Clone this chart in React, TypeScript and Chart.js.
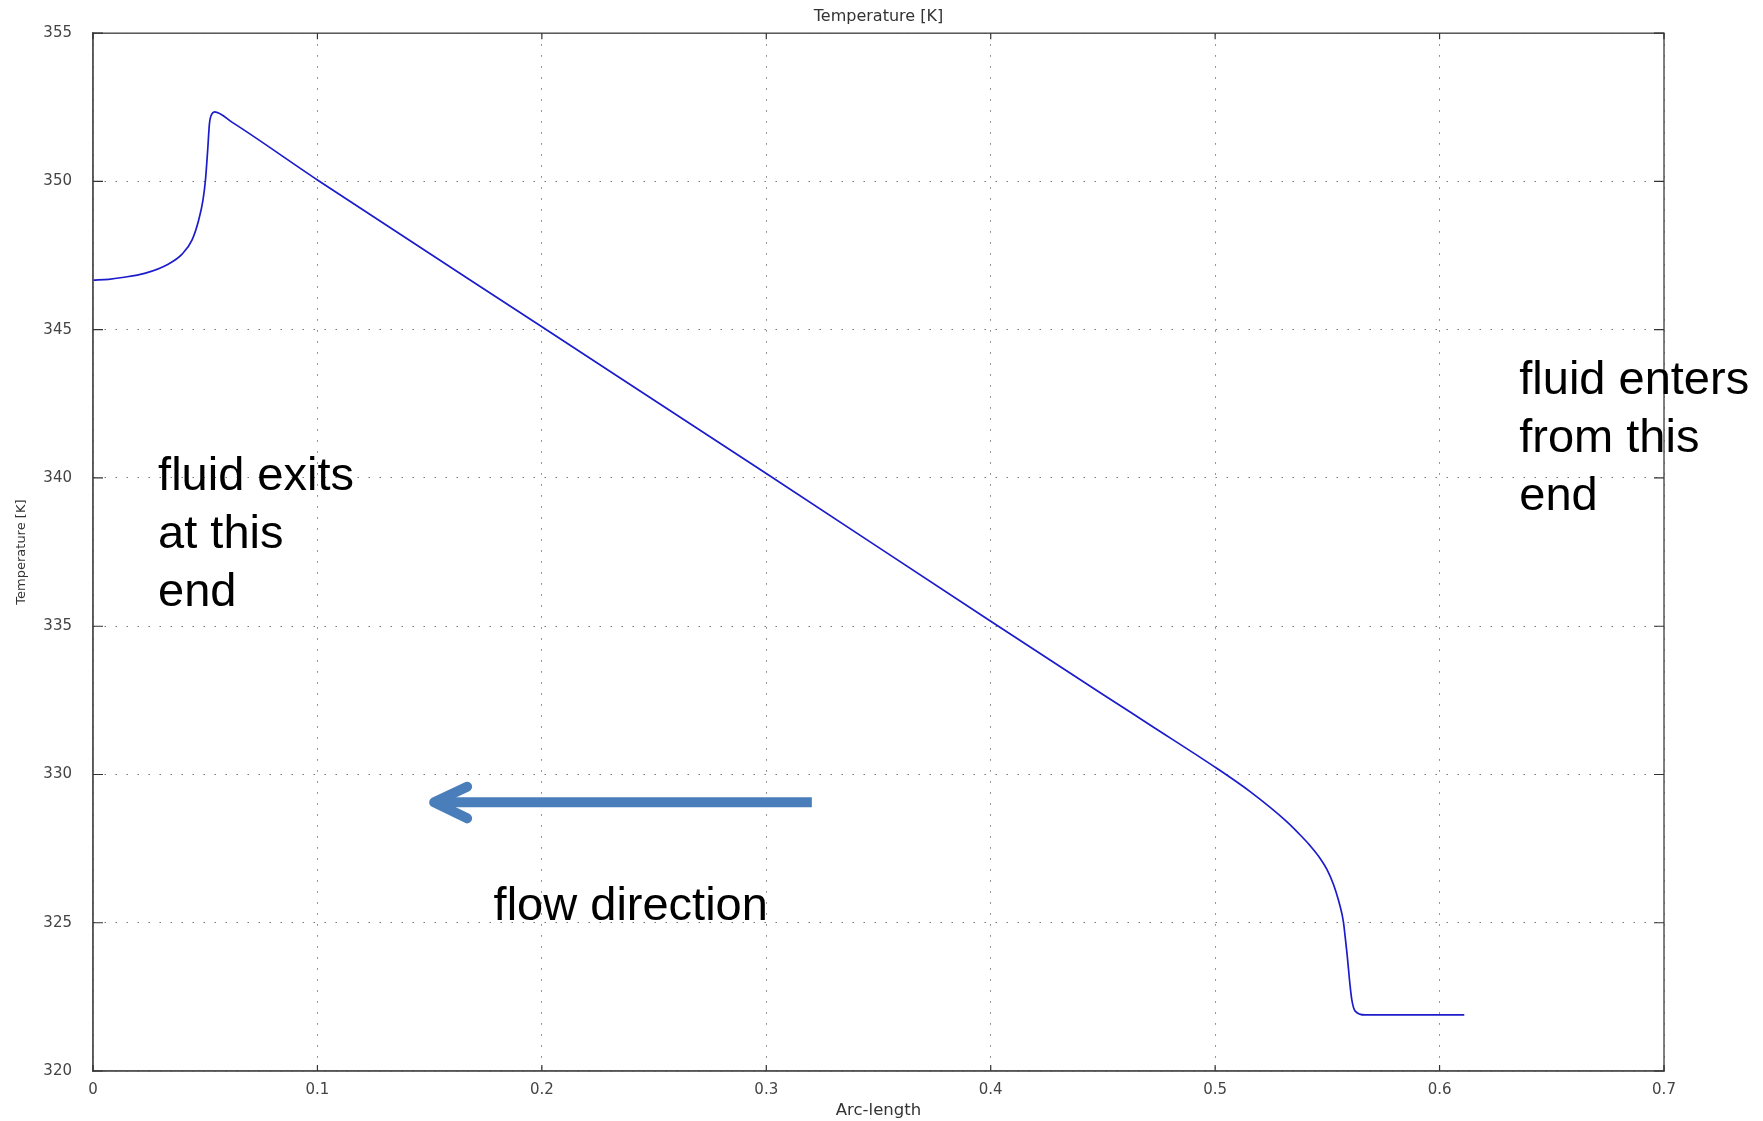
import React, { useEffect, useRef } from "react";
import { Chart, registerables } from "chart.js";

Chart.register(...registerables);

// ---- data ----
const arcLength = [
  0, 0.007, 0.013, 0.023, 0.0337, 0.0397, 0.0441, 0.0471, 0.049, 0.0501, 0.0511, 0.0519, 0.053,
  0.0542, 0.0619, 0.1, 0.2, 0.3, 0.4, 0.45, 0.471, 0.5007, 0.5156, 0.5319, 0.5379, 0.5423, 0.5468,
  0.5498, 0.5527, 0.555, 0.5565, 0.5572, 0.5579, 0.5587, 0.5594, 0.5601, 0.5609, 0.5624, 0.5668, 0.611,
];
const temperature = [
  346.67, 346.7, 346.76, 346.9, 347.22, 347.55, 348.02, 348.7, 349.37, 350.04, 351.06, 351.96, 352.28,
  352.35, 352.0, 350.05, 345.1, 340.15, 335.17, 332.7, 331.67, 330.21, 329.42, 328.41, 327.96, 327.6, 327.17,
  326.8, 326.3, 325.75, 325.3, 325.0, 324.55, 324.0, 323.45, 322.9, 322.4, 322.02, 321.89, 321.89,
];
const xTicks = [0, 0.1, 0.2, 0.3, 0.4, 0.5, 0.6, 0.7];
const xTickLabels = ["0", "0.1", "0.2", "0.3", "0.4", "0.5", "0.6", "0.7"];
const yTicks = [320, 325, 330, 335, 340, 345, 350, 355];
const yTickLabels = ["320", "325", "330", "335", "340", "345", "350", "355"];

const chartTitle = "Temperature [K]";
const xTitle = "Arc-length";
const yTitle = "Temperature [K]";

const exitNote = ["fluid exits", "at this", "end"];
const enterNote = ["fluid enters", "from this", "end"];
const flowNote = "flow direction";

// annotation anchors (data units: [arc-length, temperature])
const exitAnchor = [0.029, 339.6];
const enterAnchor = [0.6355, 342.83];
const flowAnchor = [0.1785, 325.09];
const arrowTail = [0.3203, 329.06];
const arrowTip = [0.152, 329.06];
const arrowWingUp = [0.1667, 329.59];
const arrowWingDown = [0.1667, 328.52];

const overlayPlugin = {
  id: "overlay",
  afterDraw(chart: any) {
    const { ctx, chartArea: a, scales } = chart;
    const xs = scales.x;
    const ys = scales.y;
    const px = (p: number[]) => [xs.getPixelForValue(p[0]), ys.getPixelForValue(p[1])];
    ctx.save();
    // frame
    ctx.strokeStyle = "#555";
    ctx.lineWidth = 1.5;
    ctx.setLineDash([]);
    ctx.strokeRect(a.left, a.top, a.right - a.left, a.bottom - a.top);
    // inward tick marks
    ctx.strokeStyle = "#333";
    ctx.lineWidth = 1.2;
    ctx.beginPath();
    xTicks.forEach((v) => {
      const x = xs.getPixelForValue(v);
      ctx.moveTo(x, a.bottom);
      ctx.lineTo(x, a.bottom - 6);
      ctx.moveTo(x, a.top);
      ctx.lineTo(x, a.top + 6);
    });
    yTicks.forEach((v) => {
      const y = ys.getPixelForValue(v);
      ctx.moveTo(a.left, y);
      ctx.lineTo(a.left + 10, y);
      ctx.moveTo(a.right, y);
      ctx.lineTo(a.right - 10, y);
    });
    ctx.stroke();

    // arrow
    const [tx, ty] = px(arrowTail);
    const [hx, hy] = px(arrowTip);
    const [ux, uy] = px(arrowWingUp);
    const [dx, dy] = px(arrowWingDown);
    ctx.strokeStyle = "#4A7EBB";
    ctx.lineWidth = 10;
    ctx.lineCap = "butt";
    ctx.beginPath();
    ctx.moveTo(tx, ty);
    ctx.lineTo(hx + 4, hy);
    ctx.stroke();
    ctx.lineCap = "round";
    ctx.lineJoin = "round";
    ctx.beginPath();
    ctx.moveTo(ux, uy);
    ctx.lineTo(hx, hy);
    ctx.lineTo(dx, dy);
    ctx.stroke();

    // notes
    ctx.fillStyle = "#000";
    ctx.font = "47px 'Liberation Sans', Arial, sans-serif";
    ctx.textBaseline = "alphabetic";
    ctx.textAlign = "left";
    const lineH = 58;
    const [ex, ey] = px(exitAnchor);
    exitNote.forEach((t, i) => ctx.fillText(t, ex, ey + i * lineH));
    const [nx, ny] = px(enterAnchor);
    enterNote.forEach((t, i) => ctx.fillText(t, nx, ny + i * lineH));
    const [fx, fy] = px(flowAnchor);
    ctx.fillText(flowNote, fx, fy);
    ctx.restore();
  },
};

export default function App() {
  const ref = useRef<HTMLCanvasElement>(null);
  useEffect(() => {
    document.body.style.margin = "0";
    document.body.style.overflow = "hidden";
    const tickFont = { family: "'DejaVu Sans', sans-serif", size: 15 };
    const chart = new Chart(ref.current as HTMLCanvasElement, {
      type: "line",
      data: {
        datasets: [
          {
            label: "Temperature [K]",
            data: arcLength.map((x, i) => ({ x, y: temperature[i] })),
            borderColor: "#1c1ccc",
            borderWidth: 1.7,
            pointRadius: 0,
            fill: false,
            cubicInterpolationMode: "monotone",
          },
        ],
      },
      options: {
        responsive: false,
        animation: false,
        layout: { padding: { top: 0, right: 99, bottom: 0, left: 0 } },
        plugins: {
          legend: { display: false },
          tooltip: { enabled: false },
          title: {
            display: true,
            text: chartTitle,
            fullSize: false,
            color: "#333",
            font: { family: "'DejaVu Sans', sans-serif", size: 16, weight: "normal", lineHeight: 1.2 },
            padding: { top: 7.5, bottom: 6.5 },
          },
        },
        scales: {
          x: {
            type: "linear",
            position: "bottom",
            min: 0,
            max: 0.7,
            afterFit: (axis: any) => {
              axis.height = 50;
            },
            afterBuildTicks: (axis: any) => {
              axis.ticks = xTicks.map((v) => ({ value: v }));
            },
            ticks: {
              autoSkip: false,
              maxRotation: 0,
              padding: 10,
              color: "#444",
              font: tickFont,
              callback: (v: any) => {
                const i = xTicks.findIndex((t) => Math.abs(t - v) < 1e-9);
                return i >= 0 ? xTickLabels[i] : "";
              },
            },
            grid: { color: "#777", lineWidth: 1, drawTicks: false },
            border: { display: true, color: "#555", width: 1.5, dash: [1.5, 9.5] },
            title: {
              display: true,
              text: xTitle,
              color: "#333",
              font: { family: "'DejaVu Sans', sans-serif", size: 16.5 },
              padding: { top: 0, bottom: 0 },
            },
          },
          y: {
            type: "linear",
            position: "left",
            min: 320,
            max: 355,
            afterFit: (axis: any) => {
              axis.width = 93;
            },
            afterBuildTicks: (axis: any) => {
              axis.ticks = yTicks.map((v) => ({ value: v }));
            },
            ticks: {
              autoSkip: false,
              padding: 21,
              color: "#444",
              font: tickFont,
              callback: (v: any) => {
                const i = yTicks.findIndex((t) => Math.abs(t - v) < 1e-9);
                return i >= 0 ? yTickLabels[i] : "";
              },
            },
            grid: { color: "#777", lineWidth: 1, drawTicks: false },
            border: { display: true, color: "#555", width: 1.5, dash: [1.5, 9.5] },
            title: {
              display: true,
              text: yTitle,
              color: "#333",
              font: { family: "'DejaVu Sans', sans-serif", size: 13 },
              padding: { top: 13.5, bottom: 0 },
            },
          },
        },
      } as any,
      plugins: [overlayPlugin],
    });
    return () => chart.destroy();
  }, []);
  return (
    <div style={{ width: 1763, height: 1121, background: "#fff" }}>
      <canvas ref={ref} width={1763} height={1121} style={{ display: "block" }} />
    </div>
  );
}
